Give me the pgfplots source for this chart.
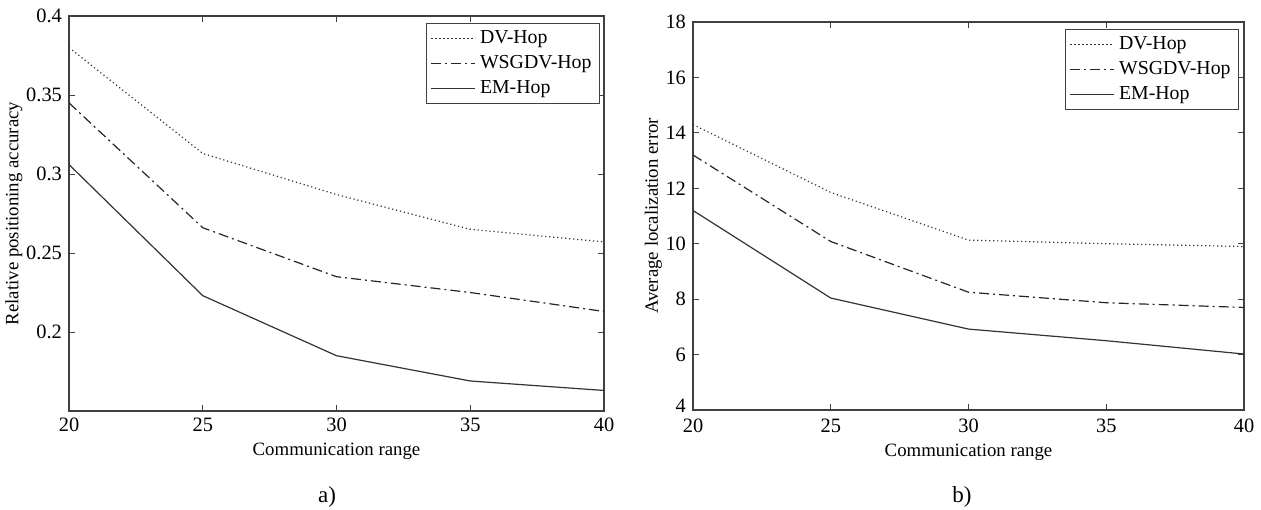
\documentclass[border=0pt]{standalone}
\usepackage{pgfplots}
\pgfplotsset{compat=1.18}
\usepackage{fontspec}
\setmainfont{Liberation Serif}

\pgfplotsset{
  matstyle/.style={
    scale only axis,
    xmin=20, xmax=40,
    xtick={20,25,30,35,40},
    tick align=inside,
    major tick length=3pt,
    axis line style={black!75, line width=0.6pt},
    tick style={black!75, line width=0.5pt},
    /pgf/number format/assume math mode=true,
    ticklabel style={font=\fontsize{10.2}{12}\selectfont},
    label style={font=\fontsize{9.4}{11}\selectfont},
    xlabel={Communication range},
    xlabel style={yshift=1.5pt},
    legend cell align=left,
    legend style={draw=black!75, line width=0.5pt, font=\fontsize{9.9}{11.5}\selectfont,
      inner xsep=2pt, inner ysep=1.5pt, row sep=0.5pt},
    legend image code/.code={\draw[#1] (0pt,0pt) -- (22pt,0pt);},
  },
  dvhop/.style={black!80, line width=0.6pt, dash pattern=on 0.6pt off 1.4pt},
  wsg/.style={black!85, line width=0.6pt, dash pattern=on 5pt off 2pt on 1pt off 2pt},
  emhop/.style={black!80, line width=0.6pt},
}

\begin{document}
\begin{tikzpicture}[font=\fontsize{9.4}{11}\selectfont]
\useasboundingbox (-34.5pt,-49pt) rectangle (596pt,205.5pt);

% a) relative positioning accuracy
\begin{axis}[matstyle,
  at={(0pt,0pt)}, anchor=south west,
  width=267.5pt, height=197.5pt,
  ymin=0.15, ymax=0.4,
  ytick={0.2,0.25,0.3,0.35,0.4},
  yticklabel style={/pgf/number format/fixed, /pgf/number format/precision=2},
  ylabel={Relative positioning accuracy},
  ylabel style={yshift=-5pt},
  legend style={at={(0.9925,0.982)}, anchor=north east},
]
\addplot[dvhop] coordinates {(20,0.380) (25,0.313) (30,0.287) (35,0.265) (40,0.257)};
\addlegendentry{DV-Hop}
\addplot[wsg] coordinates {(20,0.345) (25,0.266) (30,0.235) (35,0.225) (40,0.213)};
\addlegendentry{WSGDV-Hop}
\addplot[emhop] coordinates {(20,0.306) (25,0.223) (30,0.185) (35,0.169) (40,0.163)};
\addlegendentry{EM-Hop}
\end{axis}

% b) average localization error
\begin{axis}[matstyle,
  at={(312pt,0.5pt)}, anchor=south west,
  width=275.5pt, height=194pt,
  ymin=4, ymax=18,
  ytick={6,8,10,12,14,16,18},
  extra y ticks={4},
  extra y tick style={yticklabel style={yshift=2pt}},
  xticklabel style={yshift=-1pt},
  ylabel={Average localization error},
  ylabel style={yshift=-5pt},
  legend style={at={(0.991,0.982)}, anchor=north east},
]
\addplot[dvhop] coordinates {(20,14.3) (25,11.85) (30,10.13) (35,10.0) (40,9.9)};
\addlegendentry{DV-Hop}
\addplot[wsg] coordinates {(20,13.2) (25,10.08) (30,8.25) (35,7.87) (40,7.7)};
\addlegendentry{WSGDV-Hop}
\addplot[emhop] coordinates {(20,11.2) (25,8.04) (30,6.92) (35,6.5) (40,6.02)};
\addlegendentry{EM-Hop}
\end{axis}

\node[font=\fontsize{11.5}{13}\selectfont] at (129pt,-43pt) {a)};
\node[font=\fontsize{11.5}{13}\selectfont] at (446.5pt,-43pt) {b)};
\end{tikzpicture}
\end{document}
